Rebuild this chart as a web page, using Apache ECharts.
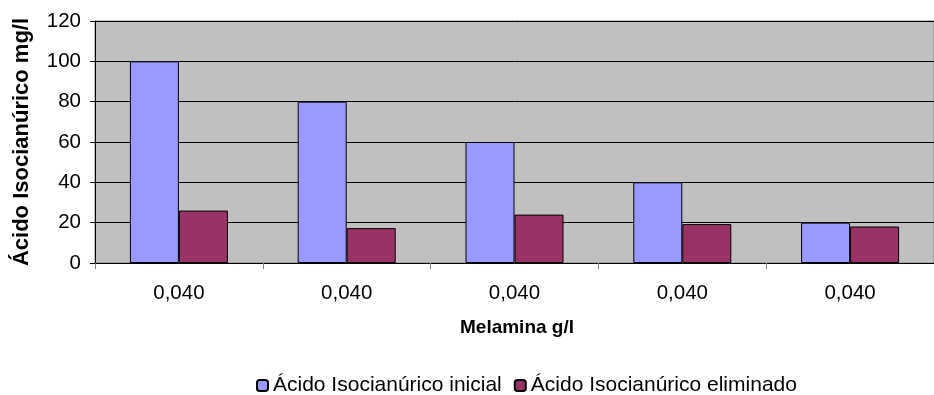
<!DOCTYPE html>
<html>
<head>
<meta charset="utf-8">
<script src="https://cdn.jsdelivr.net/npm/echarts@6/dist/echarts.min.js"></script>
<style>html,body{margin:0;padding:0;background:#fff}#c{width:934px;height:395px}</style>
</head>
<body>
<div id="c"></div>
<script>
const categories = ['0,040', '0,040', '0,040', '0,040', '0,040'];
const inicial = [100, 80, 60, 40, 20];
const eliminado = [26, 17.3, 24, 19.3, 18.1];
const seriesNames = ['Ácido Isocianúrico inicial', 'Ácido Isocianúrico eliminado'];
const yTitle = 'Ácido Isocianúrico mg/l';
const xTitle = 'Melamina g/l';

const font = '"Liberation Sans", Arial, sans-serif';
const chart = echarts.init(document.getElementById('c'));
chart.setOption({
  animation: false,
  textStyle: { fontFamily: font },
  grid: { left: 95, top: 21, width: 850, height: 242, show: true, backgroundColor: '#C0C0C0', borderColor: '#808080', borderWidth: 1 },
  legend: {
    left: 251, top: 370, itemWidth: 11, itemHeight: 11, itemGap: 12,
    textStyle: { fontSize: 21, color: '#000', fontFamily: font },
    data: seriesNames
  },
  graphic: [{
    type: 'text', x: 517, y: 328,
    style: { text: xTitle, font: 'bold 19px ' + font, fill: '#000', align: 'center', verticalAlign: 'middle', textAlign: 'center', textVerticalAlign: 'middle' }
  }],
  xAxis: {
    type: 'category', data: categories,
    axisLine: { lineStyle: { color: '#000', width: 1 } },
    axisTick: { show: true, length: 6, lineStyle: { color: '#808080' } },
    axisLabel: { fontSize: 20.5, color: '#000', margin: 20, fontFamily: font }
  },
  yAxis: {
    type: 'value', min: 0, max: 120, interval: 20,
    name: yTitle, nameLocation: 'middle', nameGap: 62,
    nameTextStyle: { fontSize: 22, fontWeight: 'bold', color: '#000', fontFamily: font },
    axisLine: { show: true, lineStyle: { color: '#000' } },
    axisTick: { show: true, length: 5, lineStyle: { color: '#000' } },
    axisLabel: { fontSize: 20.5, color: '#000', margin: 14, fontFamily: font },
    splitLine: { lineStyle: { color: '#000', width: 1 } }
  },
  series: [
    { name: seriesNames[0], type: 'bar', data: inicial, barWidth: 49, barGap: '0%',
      itemStyle: { color: '#9999FF', borderColor: '#000', borderWidth: 1 } },
    { name: seriesNames[1], type: 'bar', data: eliminado, barWidth: 49,
      itemStyle: { color: '#993366', borderColor: '#000', borderWidth: 1 } }
  ]
});
</script>
</body>
</html>
